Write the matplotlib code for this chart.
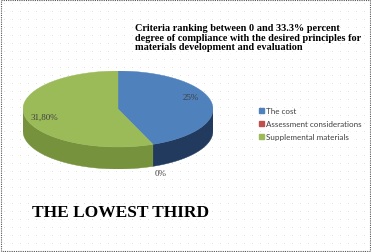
import numpy as np
import matplotlib.pyplot as plt
from matplotlib.patches import Polygon, Patch, Rectangle

labels = ["The cost", "Assessment considerations", "Supplemental materials"]
values = [25.0, 0.0, 31.8]
value_text = ["25%", "0%", "31,80%"]
top_colors = ["#4F81BD", "#C0504D", "#9BBB59"]
side_colors = ["#223A5E", "#7A2E2C", "#76923C"]

title = ("Criteria ranking between 0 and 33.3% percent\n"
         "degree of compliance with the desired principles for\n"
         "materials development and evaluation")

W, H = 371, 253
fig = plt.figure(figsize=(W / 100, H / 100), dpi=100)
fig.patch.set_facecolor("white")

# background with dots and dotted border
bg = fig.add_axes([0, 0, 1, 1])
bg.set_xlim(0, W)
bg.set_ylim(H, 0)
bg.axis("off")
gx, gy = np.meshgrid(np.arange(4, W, 8), np.arange(4, H, 8))
bg.scatter(gx.ravel(), gy.ravel(), s=0.15, color="#b8b8b8", linewidths=0)
bg.add_patch(Rectangle((0.5, 0.5), W - 1.5, H - 1.5, fill=False,
                       edgecolor="#555555", linestyle=(0, (1, 1)), linewidth=0.8))

# pseudo 3d pie
a, b, depth = 95, 38, 22
ax = fig.add_axes([23 / W, 1 - 170 / H, 190 / W, 98 / H])
ax.set_xlim(-a, a)
ax.set_ylim(-b - depth, b)
ax.axis("off")

total = sum(values)
angles = [90]
for v in values:
    angles.append(angles[-1] - 360 * v / total)

def arc(t1, t2, n=80):
    t = np.radians(np.linspace(t1, t2, n))
    return a * np.cos(t), b * np.sin(t)

# sides first
for i, v in enumerate(values):
    if v == 0:
        continue
    t_hi, t_lo = angles[i], angles[i + 1]
    for lo, hi in [(-180, 0), (180, 360), (-540, -360)]:
        s = max(t_lo, lo)
        e = min(t_hi, hi)
        if s >= e:
            continue
        x, y = arc(s, e)
        pts = np.column_stack([np.r_[x, x[::-1]], np.r_[y, y[::-1] - depth]])
        ax.add_patch(Polygon(pts, closed=True, facecolor=side_colors[i],
                             edgecolor=side_colors[i], linewidth=0.3))

# top faces
for i, v in enumerate(values):
    if v == 0:
        continue
    x, y = arc(angles[i], angles[i + 1])
    pts = np.column_stack([np.r_[0, x], np.r_[0, y]])
    ax.add_patch(Polygon(pts, closed=True, facecolor=top_colors[i],
                         edgecolor=top_colors[i], linewidth=0.3))

# value labels
lab_kw = dict(fontsize=6.5, family="Liberation Serif", color="#404040",
              ha="center", va="center")
fig.text(191 / W, 1 - 98 / H, value_text[0], **lab_kw)
fig.text(161 / W, 1 - 174 / H, value_text[1], **lab_kw)
fig.text(44 / W, 1 - 118 / H, value_text[2], **lab_kw)

fig.text(135 / W, 1 - 24 / H, title, fontsize=7.4, fontweight="bold",
         family="Liberation Serif", ha="left", va="top", linespacing=1.1)

fig.text(121 / W, 1 - 213 / H, "THE LOWEST THIRD", fontsize=12.5,
         fontweight="bold", family="Liberation Serif", ha="center", va="center")

handles = [Patch(facecolor=c, edgecolor=c) for c in top_colors]
fig.legend(handles, labels, loc="upper left",
           bbox_to_anchor=(255 / W, 1 - 104 / H), frameon=False,
           prop={"family": "Lato", "size": 5.8}, labelcolor="#404040",
           handlelength=0.6, handleheight=0.6, handletextpad=0.3,
           labelspacing=0.75, borderpad=0)

fig.savefig("out.png", dpi=100)
